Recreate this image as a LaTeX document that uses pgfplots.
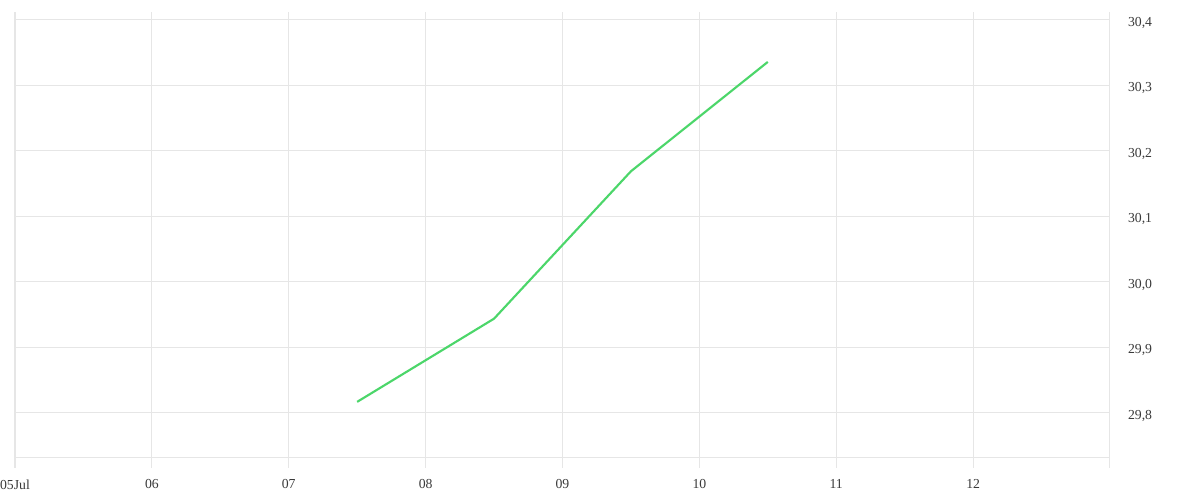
\documentclass[border=0pt]{standalone}
\usepackage{pgfplots}
\pgfplotsset{compat=1.18}
\usepackage{fontspec}
\setmainfont{Liberation Serif}
\definecolor{gridc}{HTML}{E6E6E6}
\definecolor{linec}{HTML}{4CD66A}
\definecolor{txt}{HTML}{3A3A3A}
\begin{document}
\begin{tikzpicture}[x=0.75pt,y=0.75pt]
\useasboundingbox (-15,-32) rectangle (1185,468);
\begin{axis}[
  at={(0,0)}, anchor=south west,
  scale only axis,
  width=821.25pt, height=342pt,
  xmin=5, xmax=13,
  ymin=29.716, ymax=30.4122,
  axis line style={draw=none},
  xtick pos=bottom,
  xtick={5,6,7,8,9,10,11,12},
  xticklabels={05Jul,06,07,08,09,10,11,12},
  extra x ticks={13},
  extra x tick labels={},
  ytick={29.8,29.9,30.0,30.1,30.2,30.3,30.4},
  extra y ticks={29.7313},
  extra y tick labels={},
  extra tick style={grid=major},
  yticklabel pos=right,
  grid=major,
  major grid style={draw=gridc, line width=0.75pt},
  tick style={draw=none},
  tick label style={font=\fontsize{10.3}{12}\selectfont, text=txt},
  xticklabel style={yshift=-5.25pt},
  yticklabel style={anchor=west, xshift=10pt, yshift=-2pt},
  /pgf/number format/.cd, fixed, fixed zerofill, precision=1, use comma, assume math mode=true,
]
\addplot[color=linec, line width=1.6pt, mark=none] coordinates {
  (7.5,29.817) (8.5,29.944) (9.5,30.169) (10.5,30.336)
};
\end{axis}
\end{tikzpicture}
\end{document}
